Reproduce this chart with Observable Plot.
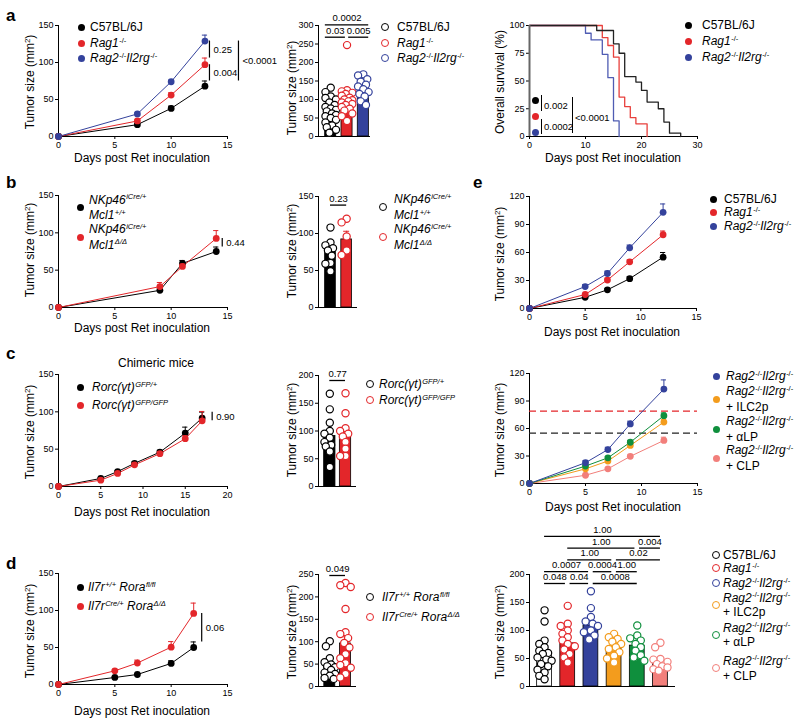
<!DOCTYPE html>
<html><head><meta charset="utf-8">
<script src="https://cdn.jsdelivr.net/npm/d3@7"></script>
<script src="https://cdn.jsdelivr.net/npm/@observablehq/plot@0.6"></script>
<style>
body{margin:0;background:#fff;}
#fig{position:relative;width:800px;height:725px;overflow:hidden;font-family:"Liberation Sans",Arial,Helvetica,sans-serif;color:#000;background:#fff;}
.t{position:absolute;white-space:nowrap;line-height:1;}
.s{font-size:7.5px;position:relative;top:-4.5px;margin-left:0.5px;}
.s2{font-size:8px;position:relative;top:-4px;}
.dot{position:absolute;border-radius:50%;box-sizing:border-box;}
.vb{position:absolute;border-left:1.2px solid #000;}
</style></head><body><div id="fig"></div>
<script>
// ---------------- colours ----------------
const cBlack="#000000", cRed="#e3262a", cBlue="#34429c", cOrange="#f39c1d", cGreen="#0f8f3d", cPink="#f27f7b";

// ---------------- panel a ----------------
const aDays=[0,7,10,13];
const aC57=[0,16,38,68], aC57Err=[0,1.5,3,7];
const aRag1=[0,21,56,97], aRag1Err=[0,1.5,3,9];
const aRag2=[0,30.5,74,129], aRag2Err=[0,1.5,2,8];
const aBarMean=[68,97,129], aBarErr=[6,9,8];
const aPtsC57=[132,120,108,104,100,92,85,80,76,72,68,62,58,55,50,45,38,30,25,18,10];
const aPtsRag1=[247,125,122,118,115,110,105,100,98,95,92,88,85,80,75,70,62,55,42];
const aPtsRag2=[168,165,155,148,140,135,128,120,115,108,95,85];
const survC57Days=[0,12,15,16,17,19,20,21,23,24,25,27];
const survC57=[100,95.5,83.5,75,54,49,41.5,31,25,13,3,0];
const survRag1Days=[0,13,14,15,16,17,18,19,21];
const survRag1=[100,89,82,71.5,35.5,27,17,11.4,0];
const survRag2Days=[0,10,11,13,14,15,16];
const survRag2=[100,93,87,74,53,14,0];

// ---------------- panel b ----------------
const bDays=[0,9,11,14];
const bWT=[0,23,59,75], bWTErr=[0,2,4,6];
const bKO=[0,28,55,92.5], bKOErr=[0,5.5,3,10.5];
const bBarMean=[75,92], bBarErr=[5,11];
const bPtsWT=[108,88,84,80,77,70,60,59,49];
const bPtsKO=[120,115,96,77,71];

// ---------------- panel c ----------------
const cDays=[0,5,7,9,12,15,17];
const cHet=[0,10.8,20,31,46,71.5,91.6], cHetErr=[0,1,1.5,2,2.5,8,8];
const cKO=[0,8.5,17.5,29,44,64,88], cKOErr=[0,1,1.5,2,2.5,4,12.5];
const cBarMean=[91,89], cBarErr=[10,10];
const cPtsHet=[167,139,115,100,95,88,80,75,72,63,35];
const cPtsKO=[168,132,105,100,95,90,80,68,55,55];

// ---------------- panel d ----------------
const dDays=[0,5,7,10,12];
const dWT=[0,9.5,13.5,28.5,50], dWTErr=[0,1,1.5,3.5,7.5];
const dKO=[0,18.5,29,50.5,96], dKOErr=[0,1,4,7.5,14];
const dBarMean=[46,96], dBarErr=[7,15];
const dPtsWT=[101,90,63,54,49,45,43,37,31,28,24,19,17];
const dPtsKO=[231,226,222,173,121,117,108,97,87,72,63,52,48,42,28,20];

// ---------------- panel e ----------------
const eDays=[0,5,7,9,12];
const eC57=[0,12,20,32,55], eC57Err=[0,1,1.5,2,5];
const eRag1=[0,15,30.5,50,79], eRag1Err=[0,1,2,2,4];
const eRag2=[0,23.5,37.5,65,103], eRag2Err=[0,2,2.5,3,9];
const eTRag2=[0,22.7,37,65,103], eTRag2Err=[0,2,2.5,3,10];
const eTILC2p=[0,16,24.5,41.5,67], eTILC2pErr=[0,1,1.5,2,3];
const eTaLP=[0,19,28,45,74], eTaLPErr=[0,1,1.5,2,3];
const eTCLP=[0,9,16,29.6,47], eTCLPErr=[0,1,1,1.5,3.5];
const eBarMean=[57,77,109,68,73,40], eBarErr=[6,7,8,5,5,4];
const ePtsC57=[136,116,82,76,70,64,60,58,52,48,46,40,36,30,25,19,13];
const ePtsRag1=[144,112,108,100,94,88,82,76,72,66,58,52,43];
const ePtsRag2=[170,140,124,116,112,108,100,97,91,84];
const ePtsILC2p=[94,88,85,80,76,70,67,61,55,50,43];
const ePtsaLP=[109,91,86,82,76,70,64,56,52,46];
const ePtsCLP=[78,70,49,48,44,40,36,34,31,28];

// ---------------- tick labels ----------------
const ticks15=[0,5,10,15], ticks20=[0,5,10,15,20], ticks30=[0,10,20,30];
const ticks150=[0,50,100,150], ticks200=[0,50,100,150,200], ticks250=[0,50,100,150,200,250], ticks300=[0,50,100,150,200,250,300];
const ticks120=[0,30,60,90,120], ticks100=[0,25,50,75,100];

// ---------------- labels ----------------
const sup=s=>`<span class="s">${s}</span>`;
const L_C57="C57BL/6J";
const L_RAG1=`<i>Rag1</i>${sup("-/-")}`;
const L_RAG2=`<i>Rag2</i>${sup("-/-")}<i>Il2rg</i>${sup("-/-")}`;
const L_NK1=[`<i>NKp46</i>${sup("<i>iCre/+</i>")}`,`<i>Mcl1</i>${sup("<i>+/+</i>")}`];
const L_NK2=[`<i>NKp46</i>${sup("<i>iCre/+</i>")}`,`<i>Mcl1</i>${sup("<i>Δ/Δ</i>")}`];
const L_ROR1=`<i>Rorc(γt)</i>${sup("<i>GFP/+</i>")}`;
const L_ROR2=`<i>Rorc(γt)</i>${sup("<i>GFP/GFP</i>")}`;
const L_IL1=`<i>Il7r</i>${sup("<i>+/+</i>")} <i>Rora</i>${sup("<i>fl/fl</i>")}`;
const L_IL2=`<i>Il7r</i>${sup("<i>Cre/+</i>")} <i>Rora</i>${sup("<i>Δ/Δ</i>")}`;
const L_ILC2P=[L_RAG2,"+ ILC2p"], L_ALP=[L_RAG2,"+ αLP"], L_CLP=[L_RAG2,"+ CLP"];
const Y_TUMOR=`Tumor size (mm<span class="s2">2</span>)`;
const Y_SURV="Overall survival (%)";
const X_DAYS="Days post Ret inoculation";

// =============== helpers ===============
const FONT='"Liberation Sans", Arial, Helvetica, sans-serif';
const fig=document.getElementById("fig");
const ML=45, MT=70, MR=80, MB=25;

function basePlot(f, xDomain, yDomain, xOpts, yOpts, marks){
  const w=(f.x1-f.x0)+ML+MR, h=(f.y1-f.y0)+MT+MB;
  const svg=Plot.plot({width:w,height:h,marginLeft:ML,marginRight:MR,marginTop:MT,marginBottom:MB,
    style:{background:"transparent",fontSize:"9px",fontFamily:FONT,color:"#000",overflow:"visible"},
    x:{domain:xDomain,...xOpts}, y:{domain:yDomain,...yOpts}, marks});
  svg.style.position="absolute"; svg.style.left=(f.x0-ML)+"px"; svg.style.top=(f.y0-MT)+"px";
  svg.style.maxWidth="none";
  fig.appendChild(svg);
}
const axisOpts=t=>({ticks:t,tickSize:3,tickPadding:2,label:null});

function linePanel(f, xDomain, yDomain, xTicks, yTicks, days, series, brackets, extra=[]){
  const pxX=(f.x1-f.x0)/(xDomain[1]-xDomain[0]);
  const cap=2.6/pxX;
  const marks=[Plot.ruleX([xDomain[0]],{stroke:"#000"}), Plot.ruleY([yDomain[0]],{stroke:"#000"}), ...extra];
  const rowsOf=s=>days.map((d,i)=>({x:d,y:s.vals[i],e:s.err[i]}));
  for(const s of series) marks.push(Plot.line(rowsOf(s),{x:"x",y:"y",stroke:s.color,strokeWidth:1}));
  for(const s of series){
    const er=rowsOf(s).filter(r=>r.e>0);
    marks.push(Plot.ruleX(er,{x:"x",y1:"y",y2:r=>r.y+r.e,stroke:s.color,strokeWidth:1}));
    marks.push(Plot.ruleY(er,{y:r=>r.y+r.e,x1:r=>r.x-cap,x2:r=>r.x+cap,stroke:s.color,strokeWidth:1}));
    marks.push(Plot.dot(rowsOf(s),{x:"x",y:"y",fill:s.color,r:3.4}));
  }
  const n=days.length-1;
  for(const b of brackets){
    const A=series[b.a], B=series[b.b];
    const y1=A.vals[n], y2=B.vals[n]+B.err[n];
    marks.push(Plot.ruleX([days[n]],{y1:y1,y2:y2,dx:b.dx,stroke:"#000",strokeWidth:1.2}));
    marks.push(Plot.text([b.p],{x:days[n],y:(y1+y2)/2,dx:b.dx+4,text:d=>d,textAnchor:"start",fontSize:9.5}));
  }
  basePlot(f,xDomain,yDomain,axisOpts(xTicks),axisOpts(yTicks),marks);
}

function jitter(vals, pxY, maxPx, r){
  const order=vals.map((v,i)=>i).sort((a,b)=>vals[b]-vals[a]);
  const cand=[0]; for(let k=1;k<=4;k++){cand.push(-k*maxPx/4,k*maxPx/4);}
  const placed=[], off=new Array(vals.length).fill(0);
  for(const i of order){
    const y=vals[i]*pxY; let best=0, bestD=-1;
    for(const c of cand){
      let md=Infinity; for(const p of placed){const d=Math.hypot(p[0]-c,p[1]-y); if(d<md) md=d;}
      if(md>=2*r*0.85){best=c;break;}
      if(md>bestD){bestD=md;best=c;}
    }
    off[i]=best; placed.push([best,y]);
  }
  return off;
}

function barPanel(f, xDomain, yDomain, yTicks, groups, hw, brackets, br){
  const pxX=(f.x1-f.x0)/(xDomain[1]-xDomain[0]);
  const pxY=(f.y1-f.y0)/(yDomain[1]-yDomain[0]);
  const cap=3/pxX;
  const marks=[Plot.ruleX([xDomain[0]],{stroke:"#000"}), Plot.ruleY([0],{stroke:"#000"})];
  groups.forEach((g,i)=>{
    marks.push(Plot.ruleX([g.mean],{x:i,y1:d=>d,y2:d=>d+g.err,stroke:g.errColor,strokeWidth:1}));
    marks.push(Plot.ruleY([g.mean+g.err],{y:d=>d,x1:i-cap,x2:i+cap,stroke:g.errColor,strokeWidth:1}));
    marks.push(Plot.rect([g.mean],{x1:i-hw,x2:i+hw,y1:0,y2:d=>d,fill:g.fill,stroke:"#000",strokeWidth:0.8}));
  });
  groups.forEach((g,i)=>{
    const offs=jitter(g.pts,pxY,hw*pxX*0.95,3.6);
    const rows=g.pts.map((v,k)=>({x:i+offs[k]/pxX,y:v}));
    marks.push(Plot.dot(rows,{x:"x",y:"y",r:3.6,fill:"#fff",stroke:g.color,strokeWidth:1.2}));
  });
  const bs=brackets.map(b=>({...b,x1:b.a-br.pad,x2:b.b+br.pad}));
  for(const p of bs) for(const q of bs) if(p!==q && p.level===q.level && p.b===q.a){p.x2=p.b-br.gap; q.x1=q.a+br.gap;}
  for(const b of bs){
    const dy=br.base-b.level*br.step;
    marks.push(Plot.ruleY([yDomain[1]],{x1:b.x1,x2:b.x2,dy:dy,stroke:"#000",strokeWidth:1.3}));
    marks.push(Plot.text([b.p],{x:(b.x1+b.x2)/2,y:yDomain[1],dy:dy-6.5,text:d=>d,fontSize:9.5}));
  }
  basePlot(f,xDomain,yDomain,{axis:null},axisOpts(yTicks),marks);
}

function txt(x,y,html,o={}){
  const d=document.createElement("div"); d.className="t"; d.innerHTML=html;
  d.style.fontSize=(o.size||12)+"px"; if(o.bold) d.style.fontWeight="bold";
  d.style.left=x+"px"; d.style.top=y+"px";
  const a=o.anchor||"start"; const tx=a==="start"?"0":a==="middle"?"-50%":"-100%";
  d.style.transform=o.rotate?"translate(-50%,-50%) rotate(-90deg)":`translate(${tx},-50%)`;
  fig.appendChild(d);
}
function dot(x,y,color,open){
  const d=document.createElement("div"); d.className="dot";
  const s=open?8:7; d.style.width=s+"px"; d.style.height=s+"px";
  d.style.left=(x-s/2)+"px"; d.style.top=(y-s/2)+"px";
  if(open){d.style.background="#fff"; d.style.border="1.3px solid "+color;} else d.style.background=color;
  fig.appendChild(d);
}
function legendItem(x,y,color,lines,textX,open=false,lh=16){
  dot(x,y,color,open);
  const arr=Array.isArray(lines)?lines:[lines];
  arr.forEach((l,k)=>txt(textX,y-(arr.length-1)*lh/2+k*lh,l));
}
function vbar(x,y1,y2){const d=document.createElement("div");d.className="vb";d.style.left=x+"px";d.style.top=y1+"px";d.style.height=(y2-y1)+"px";fig.appendChild(d);}

// =============== frames ===============
const F={
  aL:{x0:58,x1:227,y0:25,y1:136}, aM:{x0:318,x1:370,y0:25,y1:136}, aR:{x0:529,x1:697,y0:25,y1:136},
  bL:{x0:58,x1:227,y0:195,y1:307}, bM:{x0:318,x1:357,y0:196,y1:307}, eT:{x0:529,x1:696,y0:196,y1:308},
  cL:{x0:58,x1:227,y0:374,y1:486}, cM:{x0:318,x1:356,y0:375,y1:486}, eM:{x0:529,x1:697,y0:373,y1:483},
  dL:{x0:58,x1:227,y0:573,y1:684}, dM:{x0:318,x1:356,y0:574,y1:686}, eB:{x0:529,x1:675,y0:574,y1:686}
};

// =============== panel a ===============
linePanel(F.aL,[0,15],[0,150],ticks15,ticks150,aDays,
  [{vals:aC57,err:aC57Err,color:cBlack},{vals:aRag1,err:aRag1Err,color:cRed},{vals:aRag2,err:aRag2Err,color:cBlue}],
  [{a:2,b:1,p:"0.25",dx:4.5},{a:1,b:0,p:"0.004",dx:4.5},{a:2,b:0,p:"<0.0001",dx:33.5}]);
barPanel(F.aM,[-0.75,2.44],[0,300],ticks300,
  [{mean:aBarMean[0],err:aBarErr[0],pts:aPtsC57,fill:cBlack,color:cBlack,errColor:cBlack},
   {mean:aBarMean[1],err:aBarErr[1],pts:aPtsRag1,fill:cRed,color:cRed,errColor:cRed},
   {mean:aBarMean[2],err:aBarErr[2],pts:aPtsRag2,fill:cBlue,color:cBlue,errColor:cBlue}],0.34,
  [{a:0,b:1,p:"0.03",level:0},{a:1,b:2,p:"0.005",level:0},{a:0,b:2,p:"0.0002",level:1}],
  {base:11.7,step:12.4,pad:0.33,gap:0.1});
{
  const surv=[{d:survRag2Days,s:survRag2,c:"#4f5cb3"},{d:survRag1Days,s:survRag1,c:"#e8403c"},{d:survC57Days,s:survC57,c:"#222"}];
  const marks=[Plot.ruleY([0],{stroke:"#000"})];
  for(const q of surv) marks.push(Plot.line(q.d.map((x,i)=>({x,y:q.s[i]})),{x:"x",y:"y",curve:"step-after",stroke:q.c,strokeWidth:1.3}));
  marks.push(Plot.ruleX([0],{stroke:"#666",strokeWidth:2}));
  basePlot(F.aR,[0,30],[0,100],axisOpts(ticks30),axisOpts(ticks100),marks);
}

// =============== panel b ===============
linePanel(F.bL,[0,15],[0,150],ticks15,ticks150,bDays,
  [{vals:bWT,err:bWTErr,color:cBlack},{vals:bKO,err:bKOErr,color:cRed}],
  [{a:1,b:0,p:"0.44",dx:6}]);
barPanel(F.bM,[-0.74,1.67],[0,150],ticks150,
  [{mean:bBarMean[0],err:bBarErr[0],pts:bPtsWT,fill:cBlack,color:cBlack,errColor:cBlack},
   {mean:bBarMean[1],err:bBarErr[1],pts:bPtsKO,fill:cRed,color:cRed,errColor:cRed}],0.33,
  [{a:0,b:1,p:"0.23",level:0}],{base:8.6,step:12,pad:0,gap:0.1});

// =============== panel c ===============
linePanel(F.cL,[0,20],[0,150],ticks20,ticks150,cDays,
  [{vals:cHet,err:cHetErr,color:cBlack},{vals:cKO,err:cKOErr,color:cRed}],
  [{a:1,b:0,p:"0.90",dx:10}]);
barPanel(F.cM,[-0.72,1.70],[0,200],ticks200,
  [{mean:cBarMean[0],err:cBarErr[0],pts:cPtsHet,fill:cBlack,color:cBlack,errColor:cBlack},
   {mean:cBarMean[1],err:cBarErr[1],pts:cPtsKO,fill:cRed,color:cRed,errColor:cRed}],0.36,
  [{a:0,b:1,p:"0.77",level:0}],{base:5,step:12,pad:0,gap:0.1});

// =============== panel d ===============
linePanel(F.dL,[0,15],[0,150],ticks15,ticks150,dDays,
  [{vals:dWT,err:dWTErr,color:cBlack},{vals:dKO,err:dKOErr,color:cRed}],
  [{a:1,b:0,p:"0.06",dx:8}]);
barPanel(F.dM,[-0.72,1.70],[0,250],ticks250,
  [{mean:dBarMean[0],err:dBarErr[0],pts:dPtsWT,fill:cBlack,color:cBlack,errColor:cBlack},
   {mean:dBarMean[1],err:dBarErr[1],pts:dPtsKO,fill:cRed,color:cRed,errColor:cRed}],0.35,
  [{a:0,b:1,p:"0.049",level:0}],{base:1,step:12,pad:0,gap:0.1});

// =============== panel e ===============
linePanel(F.eT,[0,15],[0,120],ticks15,ticks120,eDays,
  [{vals:eC57,err:eC57Err,color:cBlack},{vals:eRag1,err:eRag1Err,color:cRed},{vals:eRag2,err:eRag2Err,color:cBlue}],[]);
linePanel(F.eM,[0,15],[0,120],ticks15,ticks120,eDays,
  [{vals:eTCLP,err:eTCLPErr,color:cPink},{vals:eTILC2p,err:eTILC2pErr,color:cOrange},{vals:eTaLP,err:eTaLPErr,color:cGreen},{vals:eTRag2,err:eTRag2Err,color:cBlue}],[],
  [Plot.ruleY([eRag1[eRag1.length-1]],{stroke:cRed,strokeDasharray:"7,4",strokeWidth:1.2}),
   Plot.ruleY([eC57[eC57.length-1]],{stroke:"#222",strokeDasharray:"7,4",strokeWidth:1.2})]);
barPanel(F.eB,[-0.65,5.65],[0,200],ticks200,
  [{mean:eBarMean[0],err:eBarErr[0],pts:ePtsC57,fill:"#fff",color:cBlack,errColor:cBlack},
   {mean:eBarMean[1],err:eBarErr[1],pts:ePtsRag1,fill:cRed,color:cRed,errColor:cRed},
   {mean:eBarMean[2],err:eBarErr[2],pts:ePtsRag2,fill:cBlue,color:cBlue,errColor:cBlue},
   {mean:eBarMean[3],err:eBarErr[3],pts:ePtsILC2p,fill:cOrange,color:cOrange,errColor:cOrange},
   {mean:eBarMean[4],err:eBarErr[4],pts:ePtsaLP,fill:cGreen,color:cGreen,errColor:cGreen},
   {mean:eBarMean[5],err:eBarErr[5],pts:ePtsCLP,fill:cPink,color:cPink,errColor:cPink}],0.32,
  [{a:0,b:1,p:"0.048",level:0},{a:1,b:2,p:"0.04",level:0},{a:2,b:4,p:"0.0008",level:0},
   {a:0,b:2,p:"0.0007",level:1},{a:2,b:3,p:"0.0004",level:1},{a:3,b:4,p:"1.00",level:1},
   {a:1,b:3,p:"1.00",level:2},{a:3,b:5,p:"0.02",level:2},
   {a:1,b:4,p:"1.00",level:3},{a:4,b:5,p:"0.004",level:3},
   {a:0,b:5,p:"1.00",level:4}],{base:9,step:11.8,pad:0,gap:0.1});

// =============== text: letters, titles ===============
txt(6,15,"a",{size:17,bold:true}); txt(6,182,"b",{size:17,bold:true});
txt(6,353,"c",{size:17,bold:true}); txt(6,563,"d",{size:17,bold:true});
txt(473,182,"e",{size:17,bold:true});

[[30,82],[292,88],[30,250],[292,251],[30,432],[292,430],[30,631],[292,632],[500,254],[500,430],[500,632]]
  .forEach(([x,y])=>txt(x,y,Y_TUMOR,{rotate:true}));
txt(500,82,Y_SURV,{rotate:true});
[[142,158],[613,158],[142,328],[142,512],[142,711],[612,332],[613,507]]
  .forEach(([x,y])=>txt(x,y,X_DAYS,{anchor:"middle"}));
txt(156,363,"Chimeric mice",{anchor:"middle"});

// =============== legends ===============
legendItem(81,27,cBlack,L_C57,90); legendItem(81,43,cRed,L_RAG1,90); legendItem(81,58,cBlue,L_RAG2,90);
legendItem(385,27,cBlack,L_C57,397,true); legendItem(385,43,cRed,L_RAG1,397,true); legendItem(385,58,cBlue,L_RAG2,397,true);
legendItem(688,25,cBlack,L_C57,702); legendItem(688,41,cRed,L_RAG1,702); legendItem(688,57,cBlue,L_RAG2,702);
// survival p-values
dot(535,100,cBlack); dot(535,116,cRed); dot(535,132,cBlue);
vbar(541,95,111); vbar(541,119,134); vbar(572,97,133);
txt(544,106,"0.002",{size:9.5}); txt(544,127,"0.0002",{size:9.5}); txt(575,118,"<0.0001",{size:9.5});

legendItem(80,207.5,cBlack,L_NK1,89,false,15.7); legendItem(80,237,cRed,L_NK2,89,false,15.7);
legendItem(383,207,cBlack,L_NK1,394,true,16); legendItem(383,237,cRed,L_NK2,394,true,16);

legendItem(80,387,cBlack,L_ROR1,92); legendItem(80,405,cRed,L_ROR2,92);
legendItem(370,384,cBlack,L_ROR1,379,true); legendItem(370,400,cRed,L_ROR2,379,true);

legendItem(80,587,cBlack,L_IL1,88); legendItem(80,606,cRed,L_IL2,88);
legendItem(370,597,cBlack,L_IL1,382,true); legendItem(370,617,cRed,L_IL2,382,true);

legendItem(713,199,cBlack,L_C57,724); legendItem(713,212,cRed,L_RAG1,724); legendItem(713,226,cBlue,L_RAG2,724);

legendItem(716,376,cBlue,L_RAG2,726); legendItem(716,399,cOrange,L_ILC2P,726,false,15.5);
legendItem(716,429,cGreen,L_ALP,726,false,15.5); legendItem(716,458,cPink,L_CLP,726,false,15.5);

legendItem(716,555,cBlack,L_C57,723,true); legendItem(716,568,cRed,L_RAG1,723,true);
legendItem(716,583,cBlue,L_RAG2,723,true); legendItem(716,605,cOrange,L_ILC2P,723,true,14.5);
legendItem(716,635,cGreen,L_ALP,723,true,14.5); legendItem(716,668,cPink,L_CLP,723,true,15);
</script></body></html>
